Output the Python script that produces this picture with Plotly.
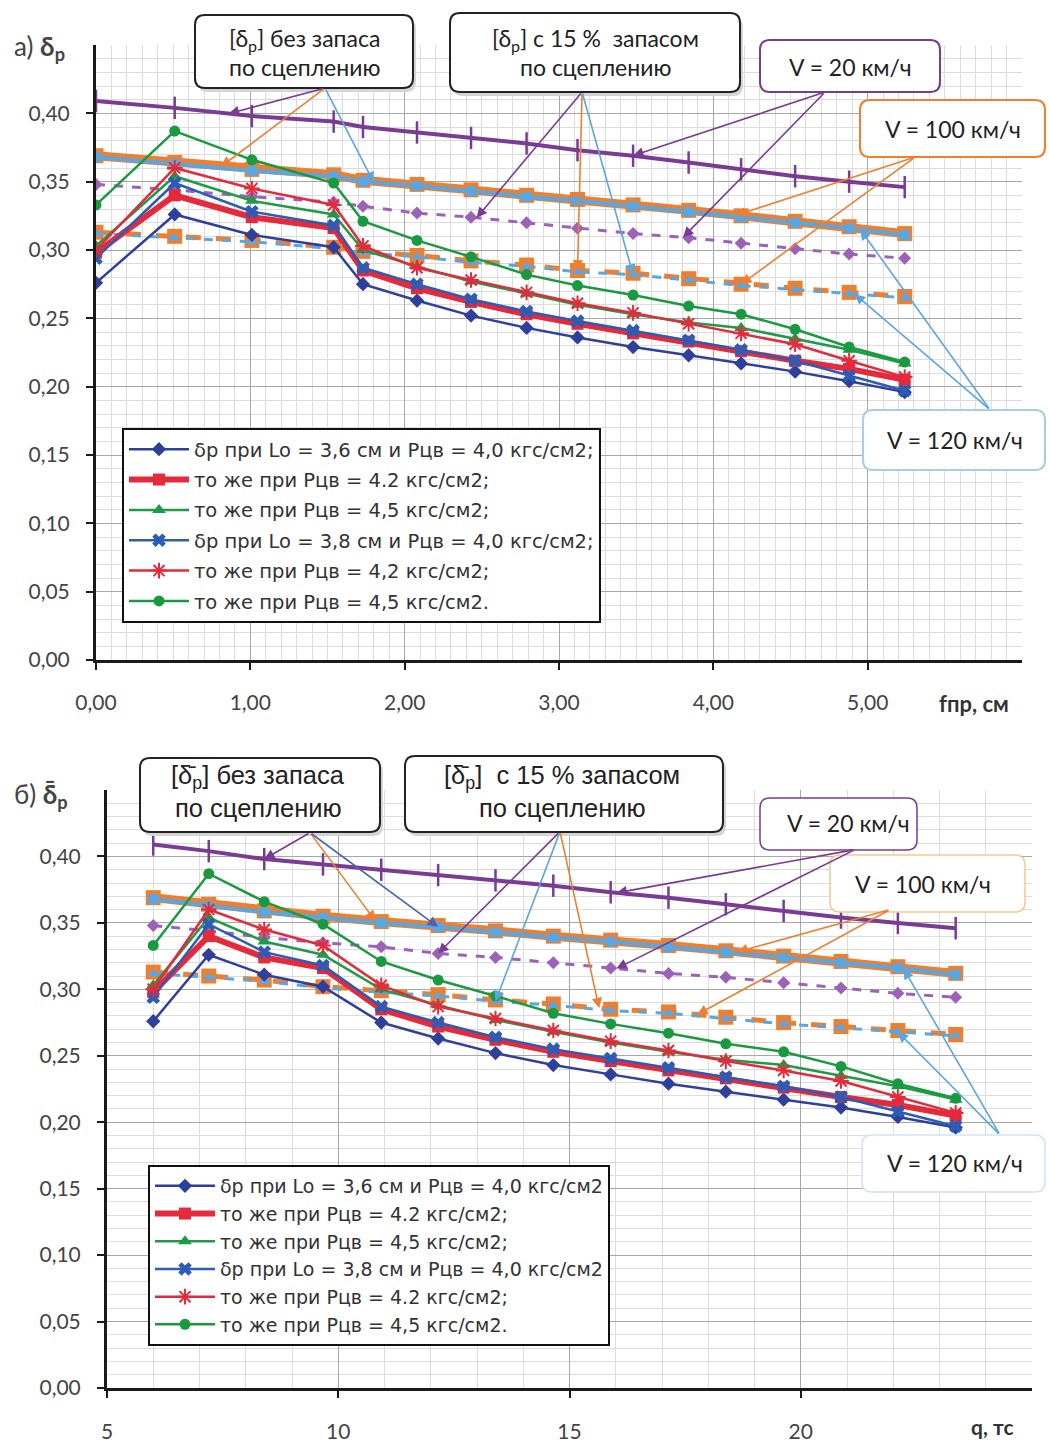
import plotly.graph_objects as go

W, H = 1049, 1442

# ---- data -------------------------------------------------------------
f_pr = [0.00, 0.51, 1.01, 1.54, 1.73, 2.08, 2.43, 2.79, 3.12, 3.48, 3.84, 4.18, 4.53, 4.88, 5.24]
q_tc = [6.0, 7.2, 8.4, 9.67, 10.93, 12.16, 13.4, 14.65, 15.89, 17.14, 18.38, 19.63, 20.87, 22.1, 23.35]

d36_40 = [0.276, 0.326, 0.311, 0.302, 0.275, 0.263, 0.252, 0.243, 0.236, 0.229, 0.223, 0.217, 0.211, 0.204, 0.196]
d36_42 = [0.298, 0.340, 0.324, 0.316, 0.285, 0.272, 0.262, 0.253, 0.246, 0.239, 0.233, 0.226, 0.219, 0.213, 0.205]
d36_45 = [0.303, 0.354, 0.336, 0.326, 0.300, 0.288, 0.277, 0.268, 0.260, 0.253, 0.247, 0.243, 0.235, 0.227, 0.217]
d38_40 = [0.294, 0.349, 0.328, 0.318, 0.287, 0.275, 0.264, 0.255, 0.248, 0.241, 0.234, 0.227, 0.219, 0.208, 0.197]
d38_42 = [0.300, 0.360, 0.345, 0.333, 0.303, 0.287, 0.278, 0.269, 0.261, 0.254, 0.246, 0.239, 0.231, 0.219, 0.207]
d38_45 = [0.333, 0.387, 0.366, 0.349, 0.321, 0.307, 0.295, 0.282, 0.274, 0.267, 0.259, 0.253, 0.242, 0.229, 0.218]

# permissible values: V = 20, 100, 120 km/h, without reserve / with 15 % reserve
v20_base = [0.409, 0.404, 0.398, 0.394, 0.390, 0.386, 0.382, 0.378, 0.373, 0.369, 0.364, 0.359, 0.354, 0.350, 0.346]
v20_res = [0.348, 0.344, 0.339, 0.335, 0.332, 0.327, 0.324, 0.320, 0.316, 0.312, 0.309, 0.305, 0.301, 0.297, 0.294]
v100_base = [0.369, 0.364, 0.359, 0.355, 0.351, 0.348, 0.344, 0.340, 0.337, 0.333, 0.329, 0.325, 0.321, 0.317, 0.312]
v100_res = [0.313, 0.310, 0.307, 0.302, 0.299, 0.296, 0.292, 0.289, 0.285, 0.283, 0.279, 0.275, 0.272, 0.269, 0.266]
v120_base = [0.368, 0.363, 0.358, 0.354, 0.350, 0.347, 0.343, 0.339, 0.336, 0.332, 0.328, 0.324, 0.320, 0.316, 0.311]
v120_res = [0.312, 0.309, 0.306, 0.301, 0.298, 0.295, 0.291, 0.288, 0.284, 0.282, 0.278, 0.274, 0.271, 0.268, 0.265]

labels_a = [
    "δр при Lo = 3,6 см и Рцв = 4,0 кгс/см2;",
    "то же при Рцв = 4.2 кгс/см2;",
    "то же при Рцв = 4,5 кгс/см2;",
    "δр при Lo = 3,8 см и Рцв = 4,0 кгс/см2;",
    "то же при Рцв = 4,2 кгс/см2;",
    "то же при Рцв = 4,5 кгс/см2.",
]
labels_b = [
    "δр при Lo = 3,6 см и Рцв = 4,0 кгс/см2",
    "то же при Рцв = 4.2 кгс/см2;",
    "то же при Рцв = 4,5 кгс/см2;",
    "δр при Lo = 3,8 см и Рцв = 4,0 кгс/см2",
    "то же при Рцв = 4.2 кгс/см2;",
    "то же при Рцв = 4,5 кгс/см2.",
]

y_ticks = [0.00, 0.05, 0.10, 0.15, 0.20, 0.25, 0.30, 0.35, 0.40]
y_tick_text = ["0,00", "0,05", "0,10", "0,15", "0,20", "0,25", "0,30", "0,35", "0,40"]
xa_ticks = [0, 1, 2, 3, 4, 5]
xa_tick_text = ["0,00", "1,00", "2,00", "3,00", "4,00", "5,00"]
xb_ticks = [5, 10, 15, 20]
xb_tick_text = ["5", "10", "15", "20"]

# ---- styles -----------------------------------------------------------
PURPLE = "#7a3b94"
PURPLE_L = "#9b62b8"
ORANGE = "#ef7f2e"
LBLUE = "#5aa6e0"
series_style = [
    dict(color="#2e3f9c", symbol="diamond", size=11, width=2.5),
    dict(color="#e52a3c", symbol="square", size=12, width=6),
    dict(color="#1f9b47", symbol="triangle-up", size=12, width=2.5),
    dict(color="#2c5cb6", symbol="x", size=12, width=2.5),
    dict(color="#e52a3c", symbol="asterisk-open", size=13, width=2.5),
    dict(color="#1a9a40", symbol="circle", size=11, width=2.5),
]
series_data = [d36_40, d36_42, d36_45, d38_40, d38_42, d38_45]

FONT = "Lato, Noto Sans, Liberation Sans"
LEG_FONT = "DejaVu Sans, Noto Sans, Liberation Sans"
BOX_FONT_B = "Liberation Sans, Arial"

fig = go.Figure()


def add_panel(xs, xa, ya, legend, labels, tag):
    ref = [
        (v100_base, dict(color=ORANGE, width=9), dict(symbol="square", size=15, color=ORANGE)),
        (v120_base, dict(color=LBLUE, width=4), dict(symbol="square", size=10, color=LBLUE)),
        (v100_res, dict(color=ORANGE, width=5, dash="dash"), dict(symbol="square", size=15, color=ORANGE)),
        (v120_res, dict(color=LBLUE, width=3, dash="dash"), dict(symbol="triangle-up", size=10, color=LBLUE)),
        (v20_base, dict(color=PURPLE, width=4), dict(symbol="line-ns-open", size=16, color=PURPLE,
                                                     line=dict(width=2.5, color=PURPLE))),
        (v20_res, dict(color=PURPLE_L, width=3, dash="dash"), dict(symbol="diamond", size=10, color=PURPLE_L)),
    ]
    for ys, line, marker in ref:
        fig.add_trace(go.Scatter(x=xs, y=ys, mode="lines+markers", line=line, marker=marker,
                                 xaxis=xa, yaxis=ya, showlegend=False, hoverinfo="skip"))
    for n, (ys, st, name) in enumerate(zip(series_data, series_style, labels)):
        mk = dict(symbol=st["symbol"], size=st["size"], color=st["color"])
        if st["symbol"].endswith("open"):
            mk["line"] = dict(width=2, color=st["color"])
        fig.add_trace(go.Scatter(x=xs, y=ys, mode="lines+markers", name=name,
                                 line=dict(color=st["color"], width=st["width"]), marker=mk,
                                 xaxis=xa, yaxis=ya, legend=legend, legendgroup=f"{tag}{n}"))


add_panel(f_pr, "x", "y", "legend", labels_a, "a")
add_panel(q_tc, "x2", "y2", "legend2", labels_b, "b")


def X(px):
    return px / W


def Y(py):
    return 1 - py / H


axis_common = dict(showline=True, linecolor="#1a1a1a", linewidth=3, ticks="outside", ticklen=7,
                   tickwidth=2, tickcolor="#1a1a1a", zeroline=False, automargin=False,
                   tickfont=dict(family=FONT, size=21, color="#444"),
                   showgrid=True, gridcolor="#a8a8a8", gridwidth=1)

fig.update_layout(
    width=W, height=H, margin=dict(l=0, r=0, t=0, b=0, autoexpand=False),
    paper_bgcolor="white", plot_bgcolor="white",
    xaxis=dict(domain=[X(96), X(1022)], anchor="y", range=[0, 6], tickvals=xa_ticks, ticktext=xa_tick_text,
               ticklabelstandoff=15,
               minor=dict(dtick=0.1, showgrid=True, gridcolor="#dcdcdc", gridwidth=1), **axis_common),
    yaxis=dict(domain=[Y(660), Y(45)], anchor="x", range=[0, 0.45], tickvals=y_ticks, ticktext=y_tick_text,
               ticklabelstandoff=12,
               minor=dict(dtick=0.01, showgrid=True, gridcolor="#dcdcdc", gridwidth=1), **axis_common),
    xaxis2=dict(domain=[X(107), X(1032)], anchor="y2", range=[5, 25], tickvals=xb_ticks, ticktext=xb_tick_text,
                ticklabelstandoff=16,
                minor=dict(dtick=1, showgrid=True, gridcolor="#dcdcdc", gridwidth=1), **axis_common),
    yaxis2=dict(domain=[Y(1388), Y(790)], anchor="x2", range=[0, 0.45], tickvals=y_ticks, ticktext=y_tick_text,
                ticklabelstandoff=12,
                minor=dict(dtick=0.01, showgrid=True, gridcolor="#dcdcdc", gridwidth=1), **axis_common),
    legend=dict(x=X(122), y=Y(428), xanchor="left", yanchor="top", bgcolor="white",
                bordercolor="#111", borderwidth=2, itemwidth=60, tracegroupgap=2,
                font=dict(family=LEG_FONT, size=19.5, color="#333")),
    legend2=dict(x=X(148), y=Y(1165), xanchor="left", yanchor="top", bgcolor="white",
                 bordercolor="#111", borderwidth=2, itemwidth=60, tracegroupgap=0,
                 font=dict(family=LEG_FONT, size=19, color="#333")),
    showlegend=True,
)


# ---- callout boxes ----------------------------------------------------
def rbox(x0, y0, x1, y1, color, width=2, r=10, shadow=True):
    def path(ox, oy):
        a0, b0, a1, b1 = x0 + ox, y0 + oy, x1 + ox, y1 + oy
        return (f"M {X(a0 + r)},{Y(b0)} L {X(a1 - r)},{Y(b0)} Q {X(a1)},{Y(b0)} {X(a1)},{Y(b0 + r)} "
                f"L {X(a1)},{Y(b1 - r)} Q {X(a1)},{Y(b1)} {X(a1 - r)},{Y(b1)} "
                f"L {X(a0 + r)},{Y(b1)} Q {X(a0)},{Y(b1)} {X(a0)},{Y(b1 - r)} "
                f"L {X(a0)},{Y(b0 + r)} Q {X(a0)},{Y(b0)} {X(a0 + r)},{Y(b0)} Z")
    shapes = []
    if shadow:
        shapes.append(dict(type="path", xref="paper", yref="paper", path=path(3, 4), layer="above",
                           fillcolor="#d4d4d4", line=dict(width=0)))
    shapes.append(dict(type="path", xref="paper", yref="paper", path=path(0, 0), layer="above",
                       fillcolor="white", line=dict(color=color, width=width)))
    return shapes


shapes = []
shapes += rbox(195, 15, 413, 88, "#222")
shapes += rbox(450, 13, 740, 92, "#222")
shapes += rbox(760, 40, 940, 92, PURPLE, shadow=False)
shapes += rbox(860, 100, 1045, 157, ORANGE, shadow=False)
shapes += rbox(863, 410, 1045, 470, "#a8cdea", shadow=False)
shapes += rbox(140, 758, 380, 832, "#222")
shapes += rbox(405, 756, 723, 832, "#222")
shapes += rbox(760, 798, 917, 850, PURPLE, width=1.5, shadow=False)
shapes += rbox(830, 855, 1025, 912, "#f3c98e", width=1.5, shadow=False)
shapes += rbox(862, 1135, 1045, 1192, "#cfe3f3", width=1.5, shadow=False)
fig.update_layout(shapes=shapes)

ann = []


def text_at(px, py, txt, size, color="#222", bold=False, font=FONT, xanchor="center"):
    if bold:
        txt = f"<b>{txt}</b>"
    ann.append(dict(x=X(px), y=Y(py), xref="paper", yref="paper", text=txt, showarrow=False,
                    xanchor=xanchor, yanchor="middle", align="center",
                    font=dict(family=font, size=size, color=color)))


text_at(304, 40, "[δ<sub>р</sub>] без запаса", 23)
text_at(304, 67, "по сцеплению", 23)
text_at(595, 40, "[δ<sub>р</sub>] с 15 %  запасом", 23)
text_at(595, 67, "по сцеплению", 23)
text_at(850, 67, "V = 20 км/ч", 23)
text_at(953, 129, "V = 100 км/ч", 23)
text_at(955, 440, "V = 120 км/ч", 23)
text_at(12, 48, "а) <b>δ<sub>р</sub></b>", 26, color="#444", xanchor="left")
text_at(974, 703, "fпр, см", 22, color="#333", bold=True)

text_at(258, 777, "[δ̄<sub>р</sub>] без запаса", 25.5, font=BOX_FONT_B)
text_at(258, 808, "по сцеплению", 25.5, font=BOX_FONT_B)
text_at(562, 777, "[δ̄<sub>р</sub>]  с 15 % запасом", 25.5, font=BOX_FONT_B)
text_at(562, 808, "по сцеплению", 25.5, font=BOX_FONT_B)
text_at(848, 823, "V = 20 км/ч", 23)
text_at(923, 884, "V = 100 км/ч", 23)
text_at(955, 1163, "V = 120 км/ч", 23)
text_at(12, 795, "б) <b>δ̄<sub>р</sub></b>", 26, color="#444", xanchor="left")
text_at(992, 1426, "q, тс", 21, color="#333", bold=True)


def on_line(xs, ys, k):
    i = int(k)
    t = k - i
    if i >= len(xs) - 1:
        return xs[-1], ys[-1]
    return xs[i] + t * (xs[i + 1] - xs[i]), ys[i] + t * (ys[i + 1] - ys[i])


def arrow(xa, ya, xs, ys, k, tail, color):
    hx, hy = on_line(xs, ys, k)
    ann.append(dict(x=hx, y=hy, xref=xa, yref=ya, ax=tail[0], ay=tail[1], axref=xa, ayref=ya,
                    text="", showarrow=True, arrowhead=2, arrowsize=1.3, arrowwidth=1.6,
                    arrowcolor=color))


def top_pt(px, py):
    return ((px - 96) / 154.3, (660 - py) / 1366.7)


def bot_pt(px, py):
    return (5 + (px - 107) / 46.25, (1388 - py) / 1328.0)


# panel а)
t1 = top_pt(325, 88)
arrow("x", "y", f_pr, v20_base, 1.7, t1, PURPLE)
arrow("x", "y", f_pr, v100_base, 1.6, t1, ORANGE)
arrow("x", "y", f_pr, v120_base, 4.2, t1, LBLUE)
t2 = top_pt(582, 92)
arrow("x", "y", f_pr, v20_res, 6.1, t2, PURPLE)
arrow("x", "y", f_pr, v100_res, 8.0, t2, ORANGE)
arrow("x", "y", f_pr, v120_res, 9.0, t2, LBLUE)
t3 = top_pt(825, 92)
arrow("x", "y", f_pr, v20_base, 9.0, t3, PURPLE)
arrow("x", "y", f_pr, v20_res, 9.9, t3, PURPLE)
t4 = top_pt(915, 157)
arrow("x", "y", f_pr, v100_base, 10.9, t4, ORANGE)
arrow("x", "y", f_pr, v100_res, 11.0, t4, ORANGE)
t5 = top_pt(990, 410)
arrow("x", "y", f_pr, v120_base, 13.2, t5, LBLUE)
arrow("x", "y", f_pr, v120_res, 13.1, t5, LBLUE)

# panel б)
b1 = bot_pt(310, 833)
arrow("x2", "y2", q_tc, v20_base, 2.0, b1, PURPLE)
arrow("x2", "y2", q_tc, v100_base, 3.9, b1, ORANGE)
arrow("x2", "y2", q_tc, v120_base, 5.0, b1, "#4a64b4")
b2 = bot_pt(560, 832)
arrow("x2", "y2", q_tc, v20_res, 5.0, b2, PURPLE)
arrow("x2", "y2", q_tc, v120_res, 6.0, b2, LBLUE)
arrow("x2", "y2", q_tc, v100_res, 7.8, b2, ORANGE)
b3 = bot_pt(855, 850)
arrow("x2", "y2", q_tc, v20_base, 8.1, b3, PURPLE)
arrow("x2", "y2", q_tc, v20_res, 8.1, b3, PURPLE)
b4 = bot_pt(890, 910)
arrow("x2", "y2", q_tc, v100_base, 10.2, b4, ORANGE)
arrow("x2", "y2", q_tc, v100_res, 9.5, b4, ORANGE)
b5 = bot_pt(1000, 1135)
arrow("x2", "y2", q_tc, v120_base, 13.1, b5, LBLUE)
arrow("x2", "y2", q_tc, v120_res, 13.0, b5, LBLUE)

fig.update_layout(annotations=ann)

fig.write_html("out.html")
